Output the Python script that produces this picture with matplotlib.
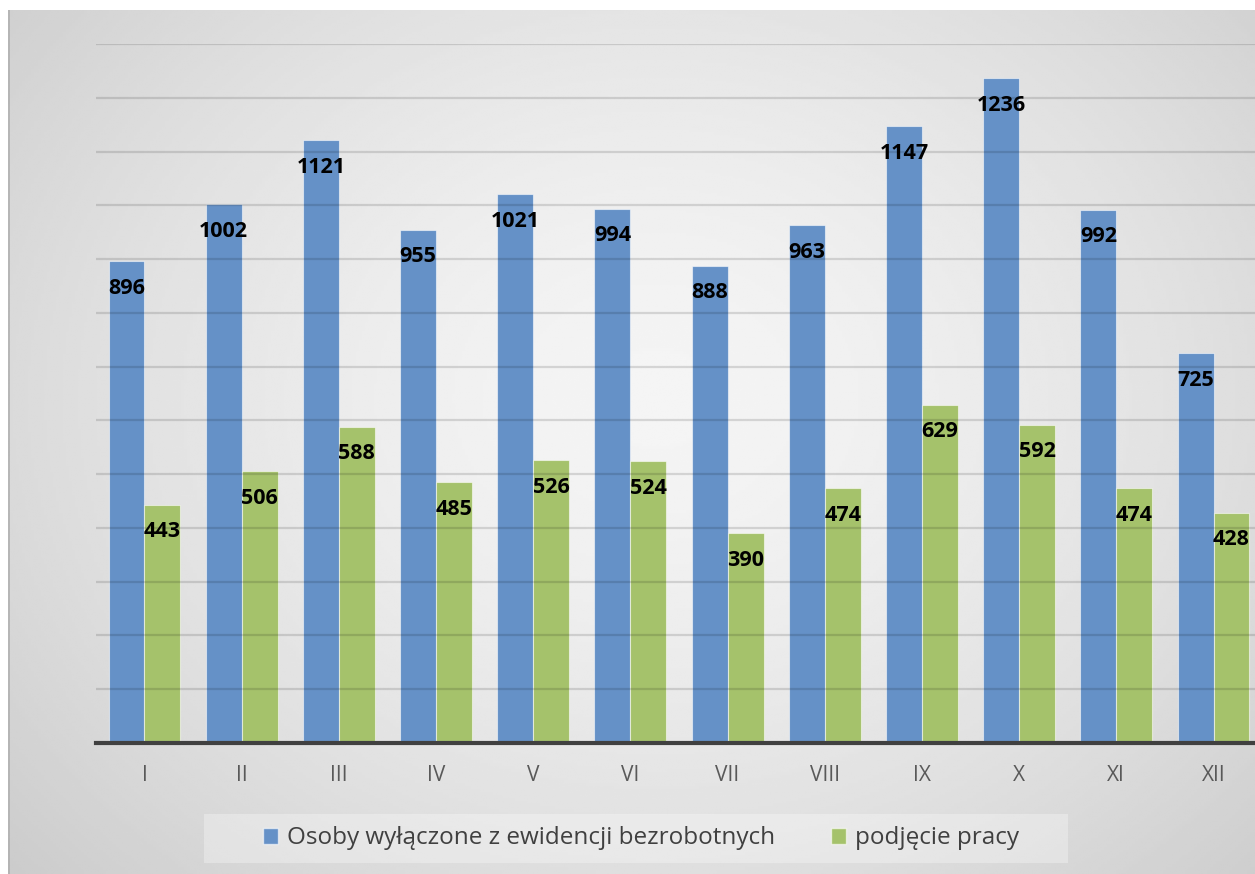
import numpy as np
import matplotlib
matplotlib.use('Agg')
import matplotlib.pyplot as plt
from matplotlib.patches import Patch, Rectangle

months = ['I', 'II', 'III', 'IV', 'V', 'VI', 'VII', 'VIII', 'IX', 'X', 'XI', 'XII']
wylaczone = [896, 1002, 1121, 955, 1021, 994, 888, 963, 1147, 1236, 992, 725]
podjecie = [443, 506, 588, 485, 526, 524, 390, 474, 629, 592, 474, 428]

plt.rcParams['font.family'] = ['Open Sans', 'DejaVu Sans']

W, H = 1255, 874
fig = plt.figure(figsize=(W / 100, H / 100), dpi=100)
fig.patch.set_facecolor('white')

# grey panel with radial gradient
bg = fig.add_axes([8 / W, 0, 1 - 8 / W, (H - 10) / H])
yy, xx = np.mgrid[0:1:300j, 0:1:400j]
r = np.sqrt(((xx - 0.52) / 0.8) ** 2 + ((yy - 0.45) / 0.95) ** 2)
shade = 0.96 - 0.2 * np.clip(r, 0, 1.2) ** 1.5
bg.imshow(shade, cmap='gray', vmin=0, vmax=1, extent=[0, 1, 0, 1], aspect='auto', interpolation='bilinear')
bg.axis('off')
bg.plot([0.0005, 0.0005], [0, 1], color='#b0b0b0', lw=1.2)

left = 95.9 / W
width = (1262.1 - 95.9) / W
ax = fig.add_axes([left, (H - 743) / H, width, (743 - 44) / H])
ax.patch.set_alpha(0)

x = np.arange(len(months))
bw = 0.37
b1 = ax.bar(x - bw / 2, wylaczone, bw, color='#6591c7', edgecolor=(1, 1, 1, 0.55), linewidth=0.8, zorder=2)
b2 = ax.bar(x + bw / 2, podjecie, bw, color='#a5c26b', edgecolor=(1, 1, 1, 0.55), linewidth=0.8, zorder=2)

ax.set_xlim(-0.5, 11.5)
ax.set_ylim(0, 1300)
ax.set_yticks(np.arange(100, 1301, 100))
ax.yaxis.grid(True, color='black', alpha=0.13, lw=1.6, zorder=3)
ax.set_axisbelow(False)
ax.tick_params(axis='y', left=False, labelleft=False)
ax.set_xticks(x)
ax.set_xticklabels(months, fontsize=15, color='#595959')
ax.tick_params(axis='x', length=0, pad=16)
for s in ['top', 'right', 'left']:
    ax.spines[s].set_visible(False)
ax.spines['bottom'].set_color('#404040')
ax.spines['bottom'].set_linewidth(3)
ax.spines['bottom'].set_zorder(4)

for bars, vals in [(b1, wylaczone), (b2, podjecie)]:
    for rect, v in zip(bars, vals):
        ax.annotate(str(v), (rect.get_x() + rect.get_width() / 2, v),
                    xytext=(0, -19.5), textcoords='offset points',
                    ha='center', va='center', fontsize=15.5, fontweight='bold',
                    color='black', zorder=5)

# legend background box
fig.patches.append(Rectangle((204 / W, 1 - 863 / H), (1068 - 204) / W, 49 / H,
                             transform=fig.transFigure, facecolor='white', alpha=0.3,
                             edgecolor='none', zorder=1))
handles = [Patch(facecolor='#6591c7', edgecolor=(1, 1, 1, 0.6)),
           Patch(facecolor='#a5c26b', edgecolor=(1, 1, 1, 0.6))]
leg = fig.legend(handles, ['Osoby wyłączone z ewidencji bezrobotnych', 'podjęcie pracy'],
                 loc='center', bbox_to_anchor=(641 / W, 1 - 838.5 / H), ncol=2,
                 fontsize=17.5, frameon=False, handlelength=0.62, handleheight=0.62,
                 handletextpad=0.35, columnspacing=2.3, borderaxespad=0)
for t in leg.get_texts():
    t.set_color('#404040')

fig.savefig('out.png', dpi=100)
